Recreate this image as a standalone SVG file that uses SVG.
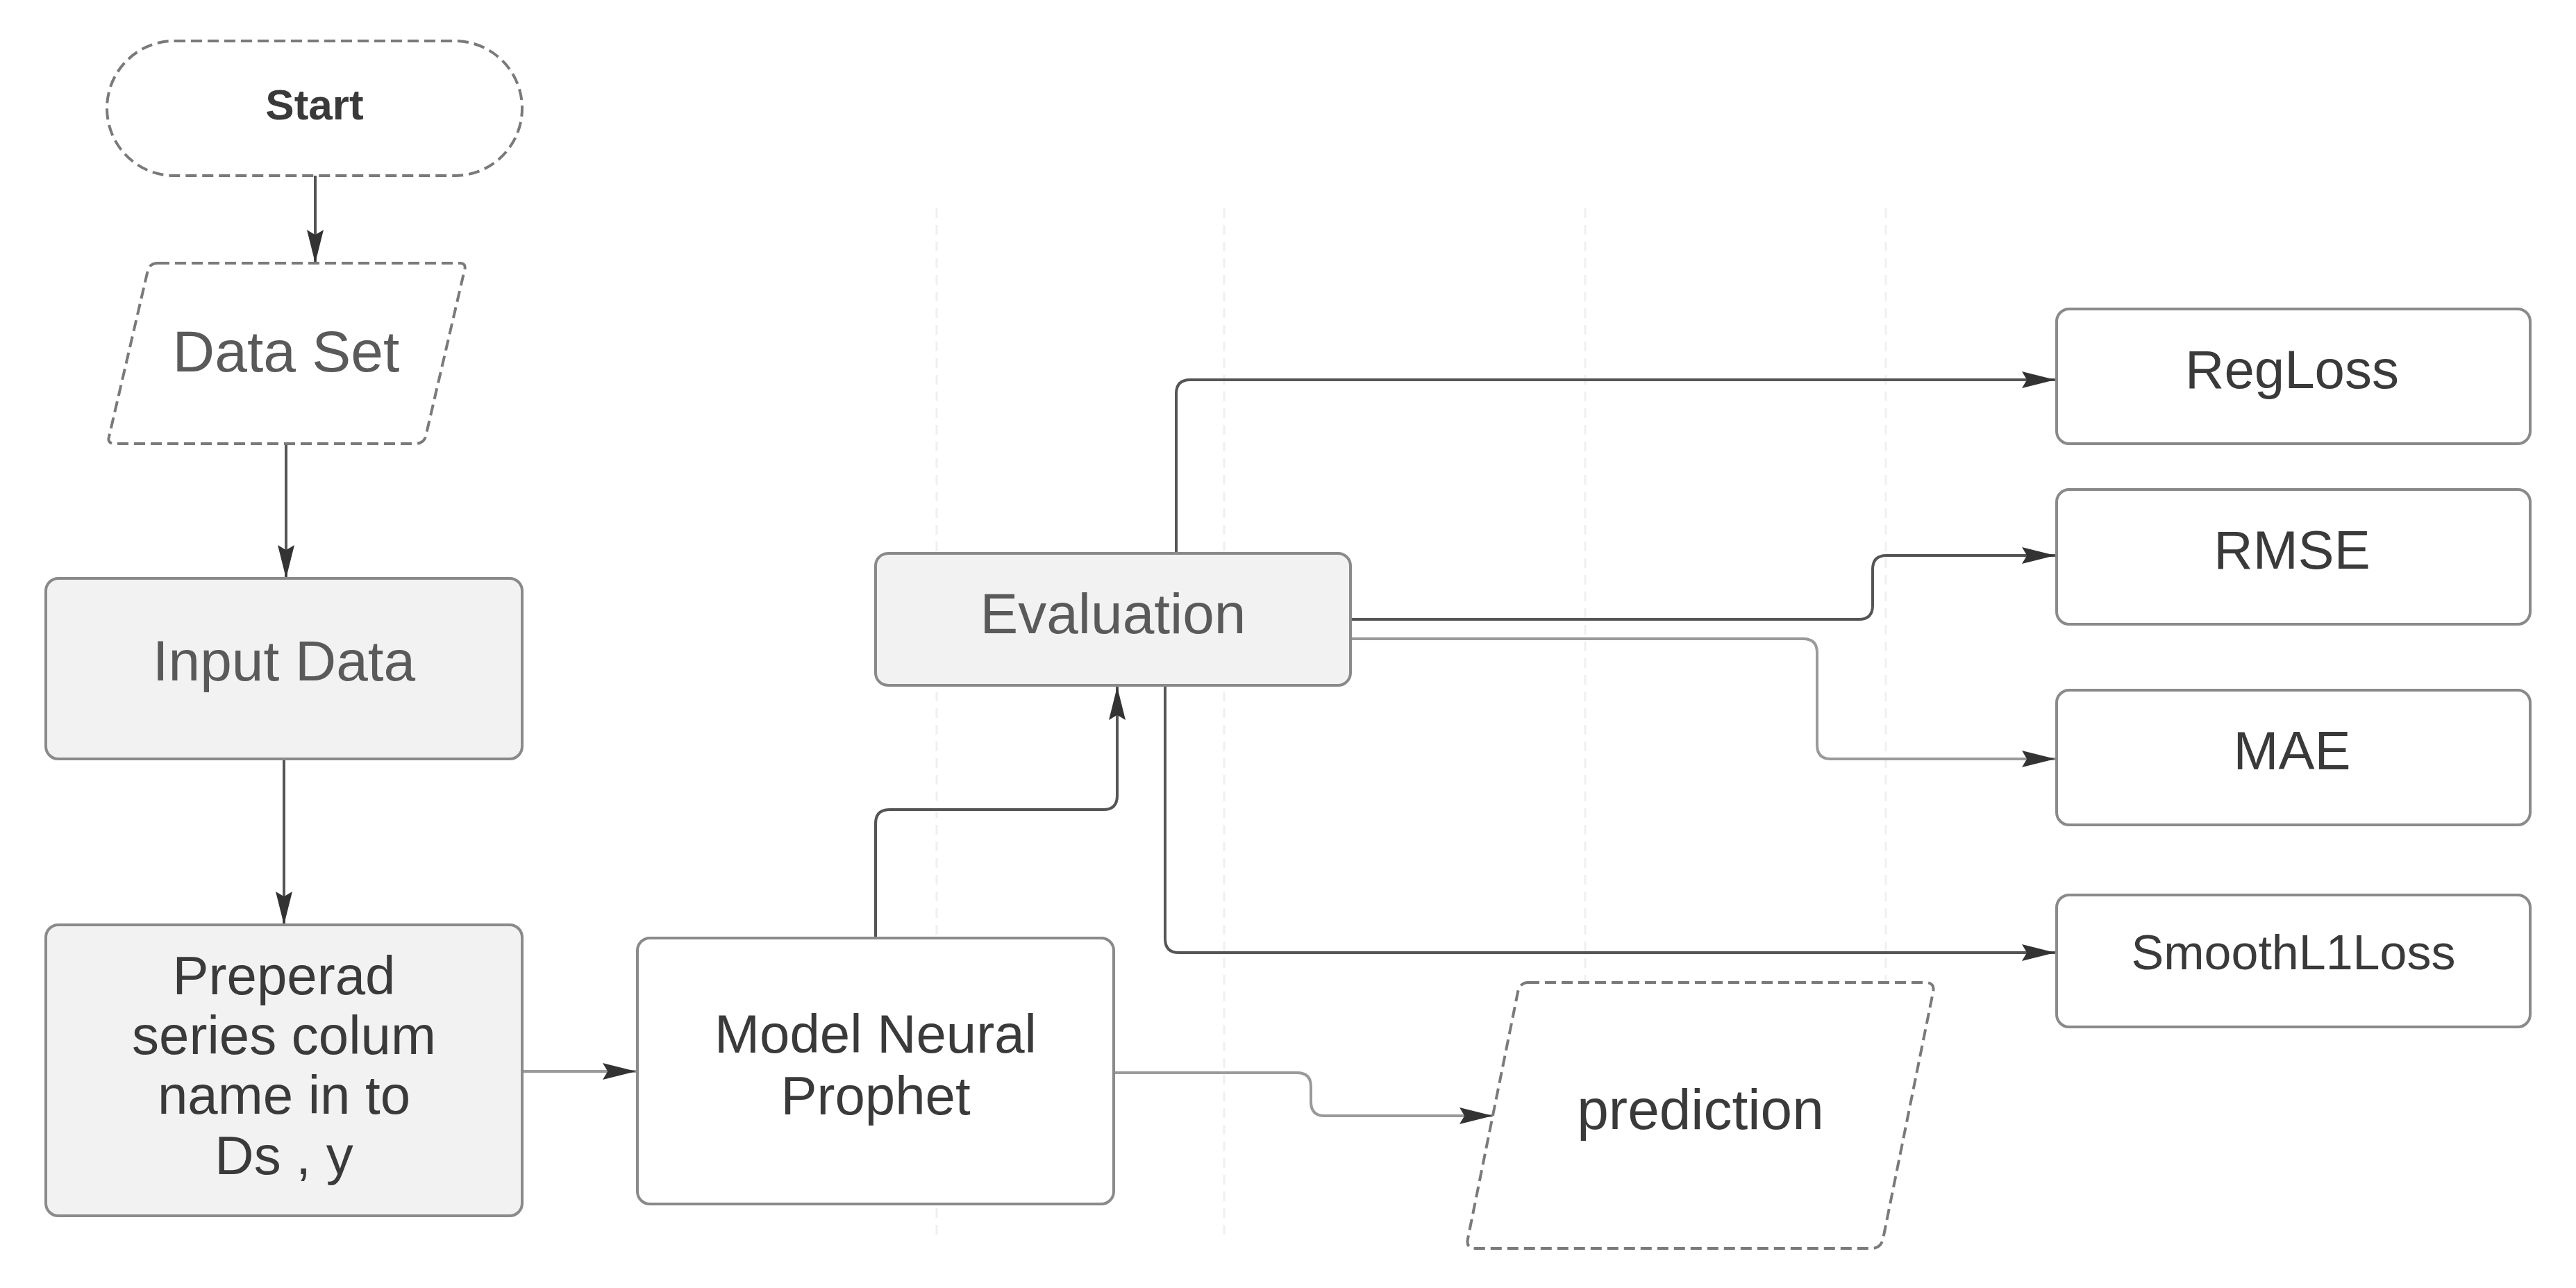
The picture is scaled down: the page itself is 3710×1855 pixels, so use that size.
<svg xmlns="http://www.w3.org/2000/svg" width="3710" height="1855" viewBox="0 0 3710 1855">
<style>
.bg{fill:#ffffff}
.grid{stroke:#f0f0f0;stroke-width:3;stroke-dasharray:14 10;fill:none}
.box{fill:#ffffff;stroke:#8a8a8a;stroke-width:4}
.gbox{fill:#f2f2f2;stroke:#8a8a8a;stroke-width:4}
.dash{fill:#ffffff;stroke:#7a7a7a;stroke-width:4;stroke-dasharray:16 8}
.t{font-family:"Liberation Sans",Arial,sans-serif;text-anchor:middle;dominant-baseline:central;fill:#3a3a3a}
.lt{fill:#5a5a5a}
.c{fill:none;stroke:#555555;stroke-width:4;stroke-linejoin:round}
.cf{fill:none;stroke:#9a9a9a;stroke-width:4;stroke-linejoin:round}
</style>
<defs>
<marker id="ah" viewBox="0 0 20 10" refX="20" refY="5" markerWidth="12" markerHeight="6.5" markerUnits="strokeWidth" orient="auto">
<path d="M0,0 L20,5 L0,10 L3,5 z" fill="#333333"/>
</marker>
</defs>
<rect class="bg" x="0" y="0" width="3710" height="1855"/>
<g id="grid">
<line class="grid" x1="1349" y1="300" x2="1349" y2="1780"/>
<line class="grid" x1="1763" y1="300" x2="1763" y2="1780"/>
<line class="grid" x1="2283" y1="300" x2="2283" y2="1780"/>
<line class="grid" x1="2716" y1="300" x2="2716" y2="1780"/>
</g>
<g id="connectors">
<path class="c" d="M454,253 L454,379" marker-end="url(#ah)"/>
<path class="c" d="M412,639 L412,833" marker-end="url(#ah)"/>
<path class="c" d="M409,1093 L409,1332" marker-end="url(#ah)"/>
<path class="cf" d="M752,1543 L916,1543" marker-end="url(#ah)"/>
<path class="c" d="M1261,1351 L1261,1186 Q1261,1166 1281,1166 L1589,1166 Q1609,1166 1609,1146 L1609,989" marker-end="url(#ah)"/>
<path class="c" d="M1694,797 L1694,567 Q1694,547 1714,547 L2960,547" marker-end="url(#ah)"/>
<path class="c" d="M1945,892 L2677,892 Q2697,892 2697,872 L2697,820 Q2697,800 2717,800 L2960,800" marker-end="url(#ah)"/>
<path class="cf" d="M1945,920 L2597,920 Q2617,920 2617,940 L2617,1073 Q2617,1093 2637,1093 L2960,1093" marker-end="url(#ah)"/>
<path class="c" d="M1678,987 L1678,1352 Q1678,1372 1698,1372 L2960,1372" marker-end="url(#ah)"/>
<path class="cf" d="M1604,1545 L1868,1545 Q1888,1545 1888,1565 L1888,1587 Q1888,1607 1908,1607 L2150,1607" marker-end="url(#ah)"/>
</g>
<g id="start">
<rect class="dash" x="154" y="59" width="598" height="194" rx="97" ry="97"/>
<text class="t" x="453" y="150" font-size="62" font-weight="bold">Start</text>
</g>
<g id="dataset">
<path class="dash" d="M228,379 L662,379 Q672,379 669,389 L613,629 Q610,639 598,639 L166,639 Q154,639 157,629 L213,389 Q216,379 228,379 z"/>
<text class="t lt" x="412" y="506" font-size="84">Data Set</text>
</g>
<g id="inputdata">
<rect class="gbox" x="66" y="833" width="686" height="260" rx="18" ry="18"/>
<text class="t lt" x="409" y="951" font-size="82">Input Data</text>
</g>
<g id="prepare">
<rect class="gbox" x="66" y="1332" width="686" height="419" rx="18" ry="18"/>
<text class="t" x="409" y="1405" font-size="78">Preperad</text>
<text class="t" x="409" y="1491" font-size="78">series colum</text>
<text class="t" x="409" y="1577" font-size="78">name in to</text>
<text class="t" x="409" y="1664" font-size="78">Ds , y</text>
</g>
<g id="model">
<rect class="box" x="918" y="1351" width="686" height="383" rx="18" ry="18"/>
<text class="t" x="1261" y="1489" font-size="78">Model Neural</text>
<text class="t" x="1261" y="1578" font-size="78">Prophet</text>
</g>
<g id="evaluation">
<rect class="gbox" x="1261" y="797" width="684" height="190" rx="18" ry="18"/>
<text class="t lt" x="1603" y="883" font-size="82">Evaluation</text>
</g>
<g id="regloss">
<rect class="box" x="2962" y="445" width="682" height="194" rx="18" ry="18"/>
<text class="t" x="3301" y="532" font-size="78">RegLoss</text>
</g>
<g id="rmse">
<rect class="box" x="2962" y="705" width="682" height="194" rx="18" ry="18"/>
<text class="t" x="3301" y="792" font-size="78">RMSE</text>
</g>
<g id="mae">
<rect class="box" x="2962" y="994" width="682" height="194" rx="18" ry="18"/>
<text class="t" x="3301" y="1081" font-size="78">MAE</text>
</g>
<g id="smoothl1loss">
<rect class="box" x="2962" y="1289" width="682" height="190" rx="18" ry="18"/>
<text class="t" x="3303" y="1372" font-size="70">SmoothL1Loss</text>
</g>
<g id="prediction">
<path class="dash" d="M2201,1415 L2773,1415 Q2787,1415 2784,1429 L2712,1784 Q2709,1798 2695,1798 L2125,1798 Q2111,1798 2114,1784 L2186,1429 Q2189,1415 2201,1415 z"/>
<text class="t" x="2449" y="1597" font-size="82">prediction</text>
</g>
</svg>
